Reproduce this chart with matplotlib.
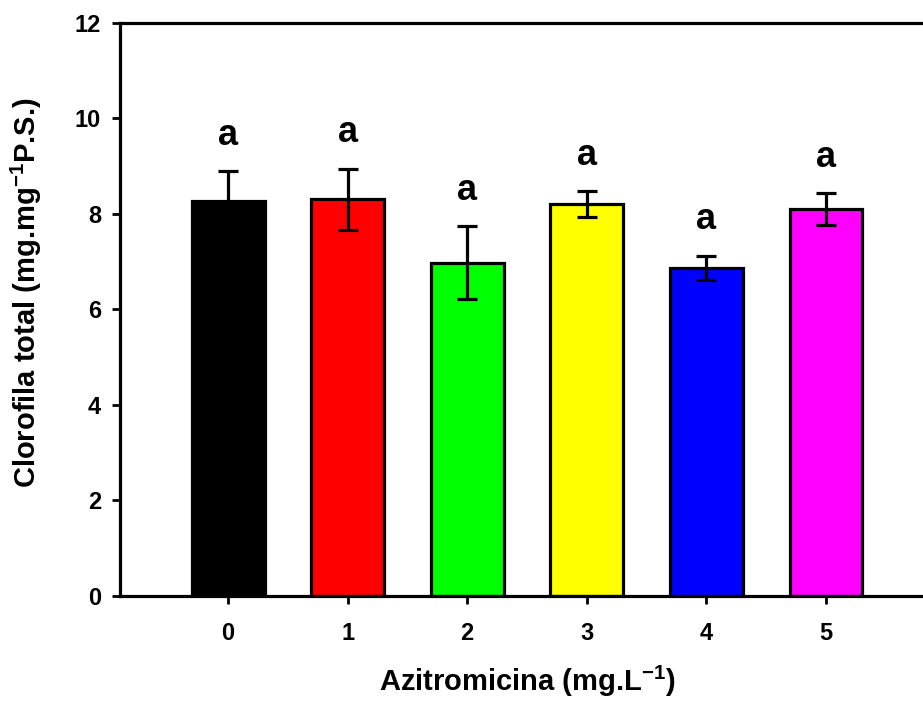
import matplotlib
matplotlib.use("Agg")
import matplotlib.pyplot as plt

# dados
doses = ["0", "1", "2", "3", "4", "5"]
clorofila = [8.27, 8.31, 6.98, 8.21, 6.87, 8.10]
erro = [0.62, 0.64, 0.77, 0.27, 0.26, 0.33]
letras = ["a", "a", "a", "a", "a", "a"]
cores = ["#000000", "#ff0000", "#00ff00", "#ffff00", "#0000ff", "#ff00ff"]

plt.rcParams["font.family"] = ["Liberation Sans", "DejaVu Sans"]
plt.rcParams["font.weight"] = "bold"
plt.rcParams["mathtext.fontset"] = "custom"
plt.rcParams["mathtext.rm"] = "Liberation Sans:bold"
plt.rcParams["mathtext.bf"] = "Liberation Sans:bold"

fig = plt.figure(figsize=(9.23, 7.07), dpi=100)
ax = fig.add_axes([0.1305, 0.157, 0.881, 0.8105])

x = list(range(len(doses)))
ax.bar(x, clorofila, width=0.61, color=cores, edgecolor="black", linewidth=2.3, zorder=2)
ax.errorbar(x, clorofila, yerr=erro, fmt="none", ecolor="black",
            elinewidth=2.3, capsize=7.5, capthick=2.3, zorder=3)

# letras de significância
for xi, yi, ei, letra in zip(x, clorofila, erro, letras):
    ax.text(xi, yi + ei + 0.55, letra, ha="center", va="baseline",
            fontsize=26, fontweight="bold")

ax.set_xlim(-0.9, 5.9)
ax.set_ylim(0, 12)
ax.set_yticks([0, 2, 4, 6, 8, 10, 12])
ax.set_xticks(x)
ax.set_xticklabels(doses)

for lado in ["left", "bottom", "top", "right"]:
    ax.spines[lado].set_linewidth(2.3)

ax.tick_params(axis="both", direction="out", length=6, width=2, labelsize=17)
ax.tick_params(axis="y", pad=8)
ax.tick_params(axis="x", pad=13)

ax.set_xlabel(r"Azitromicina (mg.L$^{\mathbf{-1}}$)", fontsize=21, fontweight="bold", labelpad=13)
ax.set_ylabel(r"Clorofila total (mg.mg$^{\mathbf{-1}}$P.S.)", fontsize=21, fontweight="bold")
ax.yaxis.set_label_coords(-0.094, 0.53)

fig.savefig("out.png", dpi=100)
